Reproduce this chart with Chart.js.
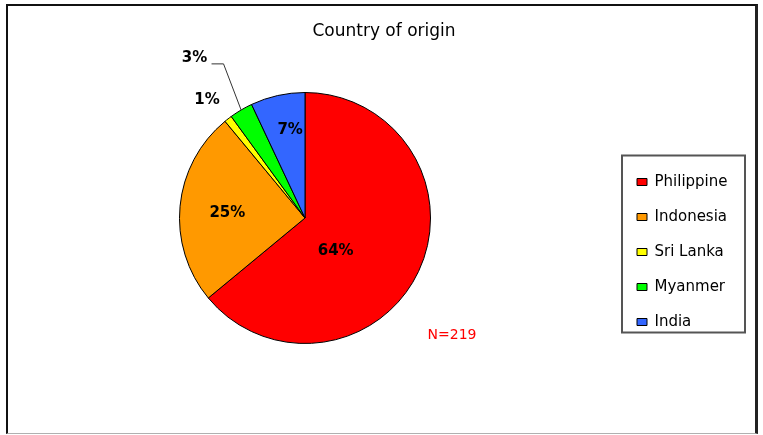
<!DOCTYPE html>
<html lang="en">
  <head>
    <meta charset="UTF-8" />
    <title>Country of origin</title>
    <script src="https://cdn.jsdelivr.net/npm/chart.js@4.4.1/dist/chart.umd.min.js"></script>
    <style>
      html,
      body {
        margin: 0;
        padding: 0;
        background: #fff;
      }
      body {
        width: 763px;
        height: 435px;
        position: relative;
        overflow: hidden;
      }
      #chart {
        position: absolute;
        left: 0;
        top: 0;
      }
      #frame {
        position: absolute;
        left: 6px;
        top: 4px;
        width: 747px;
        height: 427px;
        border-left: 2px solid #111;
        border-top: 2px solid #111;
        border-right: 3px solid #222;
        border-bottom: 1px solid #b0b0b0;
        pointer-events: none;
      }
    </style>
  </head>
  <body>
    <canvas id="chart" width="763" height="435"></canvas>
    <div id="frame"></div>
    <script>
      const countries = ["Philippine", "Indonesia", "Sri Lanka", "Myanmer", "India"];
      const shares = [64, 25, 1, 3, 7];
      const sampleSize = 219;
      const colors = ["#FF0000", "#FF9900", "#FFFF00", "#00FF00", "#3366FF"];

      // where each % label sits: [distance as part of the radius, turn from slice middle in degrees]
      const labelSpots = [[0.36, 22], [0.62, -2], [1.22, -2], [1.55, -4], [0.71, 3]];
      const withLeader = [false, false, false, true, false];

      const pieLabels = {
        id: "pieLabels",
        afterDatasetsDraw(chart) {
          const ctx = chart.ctx;
          const arcs = chart.getDatasetMeta(0).data;
          ctx.save();
          ctx.textAlign = "center";
          ctx.textBaseline = "middle";
          ctx.font = "bold 15px 'DejaVu Sans'";
          ctx.fillStyle = "#000";
          let cx = 0, cy = 0;
          arcs.forEach((arc, i) => {
            const { x, y, startAngle, endAngle, outerRadius } = arc.getProps(
              ["x", "y", "startAngle", "endAngle", "outerRadius"], true);
            cx = x; cy = y;
            const mid = (startAngle + endAngle) / 2;
            const [k, turn] = labelSpots[i];
            const a = mid + (turn * Math.PI) / 180;
            const lx = x + k * outerRadius * Math.cos(a);
            const ly = y + k * outerRadius * Math.sin(a);
            if (withLeader[i]) {
              ctx.beginPath();
              ctx.moveTo(x + outerRadius * Math.cos(mid), y + outerRadius * Math.sin(mid));
              ctx.lineTo(lx + 29, ly + 6);
              ctx.lineTo(lx + 17, ly + 6);
              ctx.strokeStyle = "#333";
              ctx.lineWidth = 1;
              ctx.stroke();
            }
            ctx.fillText(shares[i] + "%", lx, ly);
          });
          ctx.font = "14px 'DejaVu Sans'";
          ctx.fillStyle = "#FF0000";
          ctx.fillText("N=" + sampleSize, cx + 147, cy + 117);
          ctx.restore();
        },
      };

      // legend keeps a fixed slot on the right, then is moved into its box
      const legendPlace = {
        id: "legendPlace",
        beforeLayout(chart) {
          const lg = chart.legend;
          if (!lg || lg._fitWrapped) return;
          const fit = lg.fit;
          lg.fit = function () {
            fit.call(this);
            this.width = 158;
          };
          lg._fitWrapped = true;
        },
        afterLayout(chart) {
          const lg = chart.legend;
          const w = lg.width, h = lg.height;
          lg.left = 617;
          lg.right = lg.left + w;
          lg.top = 154.5;
          lg.bottom = lg.top + h;
        },
        afterDraw(chart) {
          const lg = chart.legend;
          const ctx = chart.ctx;
          ctx.save();
          ctx.strokeStyle = "#555";
          ctx.lineWidth = 2;
          ctx.strokeRect(lg.left + 5, lg.top + 1, 123, 177);
          ctx.restore();
        },
      };

      new Chart(document.getElementById("chart"), {
        type: "pie",
        data: {
          labels: countries,
          datasets: [
            {
              data: shares,
              backgroundColor: colors,
              borderColor: "#000",
              borderWidth: 1,
            },
          ],
        },
        options: {
          responsive: false,
          animation: false,
          layout: {
            padding: { left: 5, right: 0, top: 0, bottom: 91 },
          },
          plugins: {
            title: {
              display: true,
              text: "Country of origin",
              color: "#000",
              font: { family: "DejaVu Sans", size: 17, weight: "normal" },
              padding: { top: 21.8, bottom: 49.8 },
            },
            legend: {
              position: "right",
              align: "start",
              labels: {
                color: "#000",
                font: { family: "DejaVu Sans", size: 15 },
                boxWidth: 10,
                boxHeight: 7,
                padding: 20,
              },
            },
            tooltip: { enabled: false },
          },
        },
        plugins: [pieLabels, legendPlace],
      });
    </script>
  </body>
</html>
